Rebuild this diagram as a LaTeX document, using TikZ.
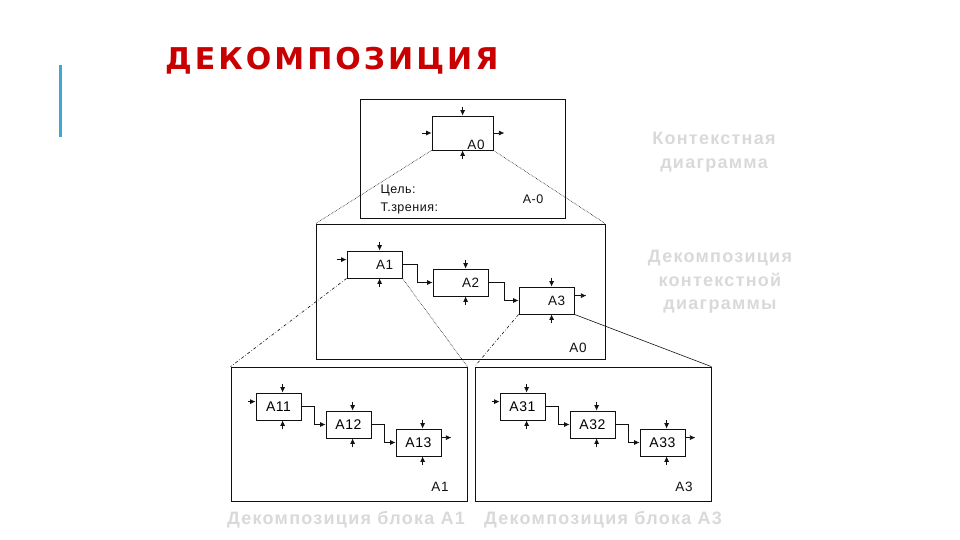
\documentclass[tikz,border=0pt]{standalone}
\usepackage{fontspec}
\setmainfont{Liberation Sans}
\newfontfamily\headfont[LetterSpace=10]{DejaVu Sans}
\newfontfamily\notefont[LetterSpace=7]{Liberation Sans}
\newfontfamily\boxfont[LetterSpace=4]{Liberation Sans}
\usetikzlibrary{arrows.meta,positioning,calc}
\definecolor{ink}{HTML}{111111}
\definecolor{pale}{HTML}{D9D9D9}
\definecolor{cred}{HTML}{C80000}
\definecolor{cbar}{HTML}{3FA7D2}

\begin{document}
\begin{tikzpicture}[x=1pt,y=-1pt,
    frm/.style={draw=ink,line width=0.8pt,inner sep=0pt},
    blk/.style={draw=ink,line width=0.8pt,inner sep=0pt,minimum height=27pt,font=\boxfont\fontsize{14}{16}\selectfont},
    arr/.style={-{Latex[length=5.5pt,width=5pt]},ink,line width=0.7pt},
    lbl/.style={font=\boxfont\fontsize{13.5}{15}\selectfont,color=ink},
    small/.style={font=\boxfont\fontsize{12.5}{14}\selectfont,color=ink},
    lead/.style={ink,line width=0.6pt},
    note/.style={font=\notefont\bfseries\fontsize{18}{23.5}\selectfont,color=pale,align=center}]
  \useasboundingbox (0,0) rectangle (960,540);
  \fill[cbar] (59,65) rectangle (62,137);
  \node[font=\headfont\bfseries\fontsize{30}{35}\selectfont,color=cred,anchor=base west,inner sep=0pt] (title) at (165,70) {ДЕКОМПОЗИЦИЯ};
  % frames
  \node[frm,minimum width=205pt,minimum height=119pt] (ctx) at (462.5,158.5) {};
  \node[frm,minimum width=289pt,minimum height=135pt] (dec) at (460.5,291.5) {};
  \node[frm,minimum width=236pt,minimum height=134pt] (decA) at (349,434) {};
  \node[frm,minimum width=236pt,minimum height=134pt] (decC) at (593,434) {};
  % context diagram
  \node[blk,minimum width=61pt,minimum height=34pt] (a0) at (462.5,133) {};
  \node[lbl,anchor=base,inner sep=0pt] (la0) at (476,149.5) {A0};
  \draw[arr] ([xshift=31pt,yshift=9pt]a0.north west) -- ([xshift=31pt]a0.north west);
  \draw[arr] ([xshift=31pt,yshift=-9pt]a0.south west) -- ([xshift=31pt]a0.south west);
  \draw[arr] ([xshift=-10pt]a0.west) -- (a0.west);
  \draw[arr] (a0.east) -- ++(11,0);
  \node[small,anchor=west] (goal) at (377,190) {Цель:};
  \node[small,anchor=west] (view) at (377,208) {Т.зрения:};
  \node[small] (tctx) at (533,199) {A-0};
  % decomposition of A0
  \foreach \n/\x/\y in {1/347/251, 2/433/269, 3/519/287} {
    \node[blk,minimum width=55pt] (m\n) at (\x+27.5,\y+13.5) {};
    \node[lbl] (lm\n) at ([xshift=38pt]m\n.west) {A\n};
    \draw[arr] ([xshift=33pt,yshift=9pt]m\n.north west) -- ([xshift=33pt]m\n.north west);
    \draw[arr] ([xshift=33pt,yshift=-9pt]m\n.south west) -- ([xshift=33pt]m\n.south west);
  }
  \draw[arr] ([xshift=-10pt,yshift=-9pt]m1.north west) -- ([yshift=-9pt]m1.north west);
  \draw[arr] (m1.east) -- ++(15,0) |- (m2.west);
  \draw[arr] (m2.east) -- ++(16,0) |- (m3.west);
  \draw[arr] ([yshift=-9pt]m3.north east) -- ++(12,0);
  \node[lbl] (tdec) at (578,348) {A0};
  % decomposition of A1 and A3
  \foreach \p/\d/\x in {a/1/256, c/3/500} {
    \foreach \k in {1,2,3} {
      \node[blk,minimum width=45pt] (\p\k) at ({\x+70*(\k-1)+22.5},{393+18*(\k-1)+13.5}) {A\d\k};
      \draw[arr] ([xshift=27pt,yshift=9pt]\p\k.north west) -- ([xshift=27pt]\p\k.north west);
      \draw[arr] ([xshift=27pt,yshift=-9pt]\p\k.south west) -- ([xshift=27pt]\p\k.south west);
    }
    \draw[arr] ([xshift=-8pt,yshift=-9pt]\p1.north west) -- ([yshift=-9pt]\p1.north west);
    \draw[arr] (\p1.east) -- ++(13,0) |- (\p2.west);
    \draw[arr] (\p2.east) -- ++(13,0) |- (\p3.west);
    \draw[arr] ([yshift=-9pt]\p3.north east) -- ++(10,0);
  }
  \node[lbl] (tdecA) at (440,487) {A1};
  \node[lbl] (tdecC) at (684,487) {A3};
  % leader lines
  \draw[lead,densely dotted] (a0.south west) -- (dec.north west);
  \draw[lead,densely dotted] (a0.south east) -- (dec.north east);
  \draw[lead,dash dot] (m1.south west) -- (decA.north west);
  \draw[lead,densely dotted] (m1.south east) -- (decA.north east);
  \draw[lead,dash dot] (m3.south west) -- (decC.north west);
  \draw[lead] (m3.south east) -- (decC.north east);
  % captions
  \node[note] (nctx) at (714,152) {Контекстная\\диаграмма};
  \node[note] (ndec) at (720,282) {Декомпозиция\\контекстной\\диаграммы};
  \node[note] (nA) at (346,520) {Декомпозиция блока A1};
  \node[note] (nC) at (603,520) {Декомпозиция блока A3};
\end{tikzpicture}
\end{document}
